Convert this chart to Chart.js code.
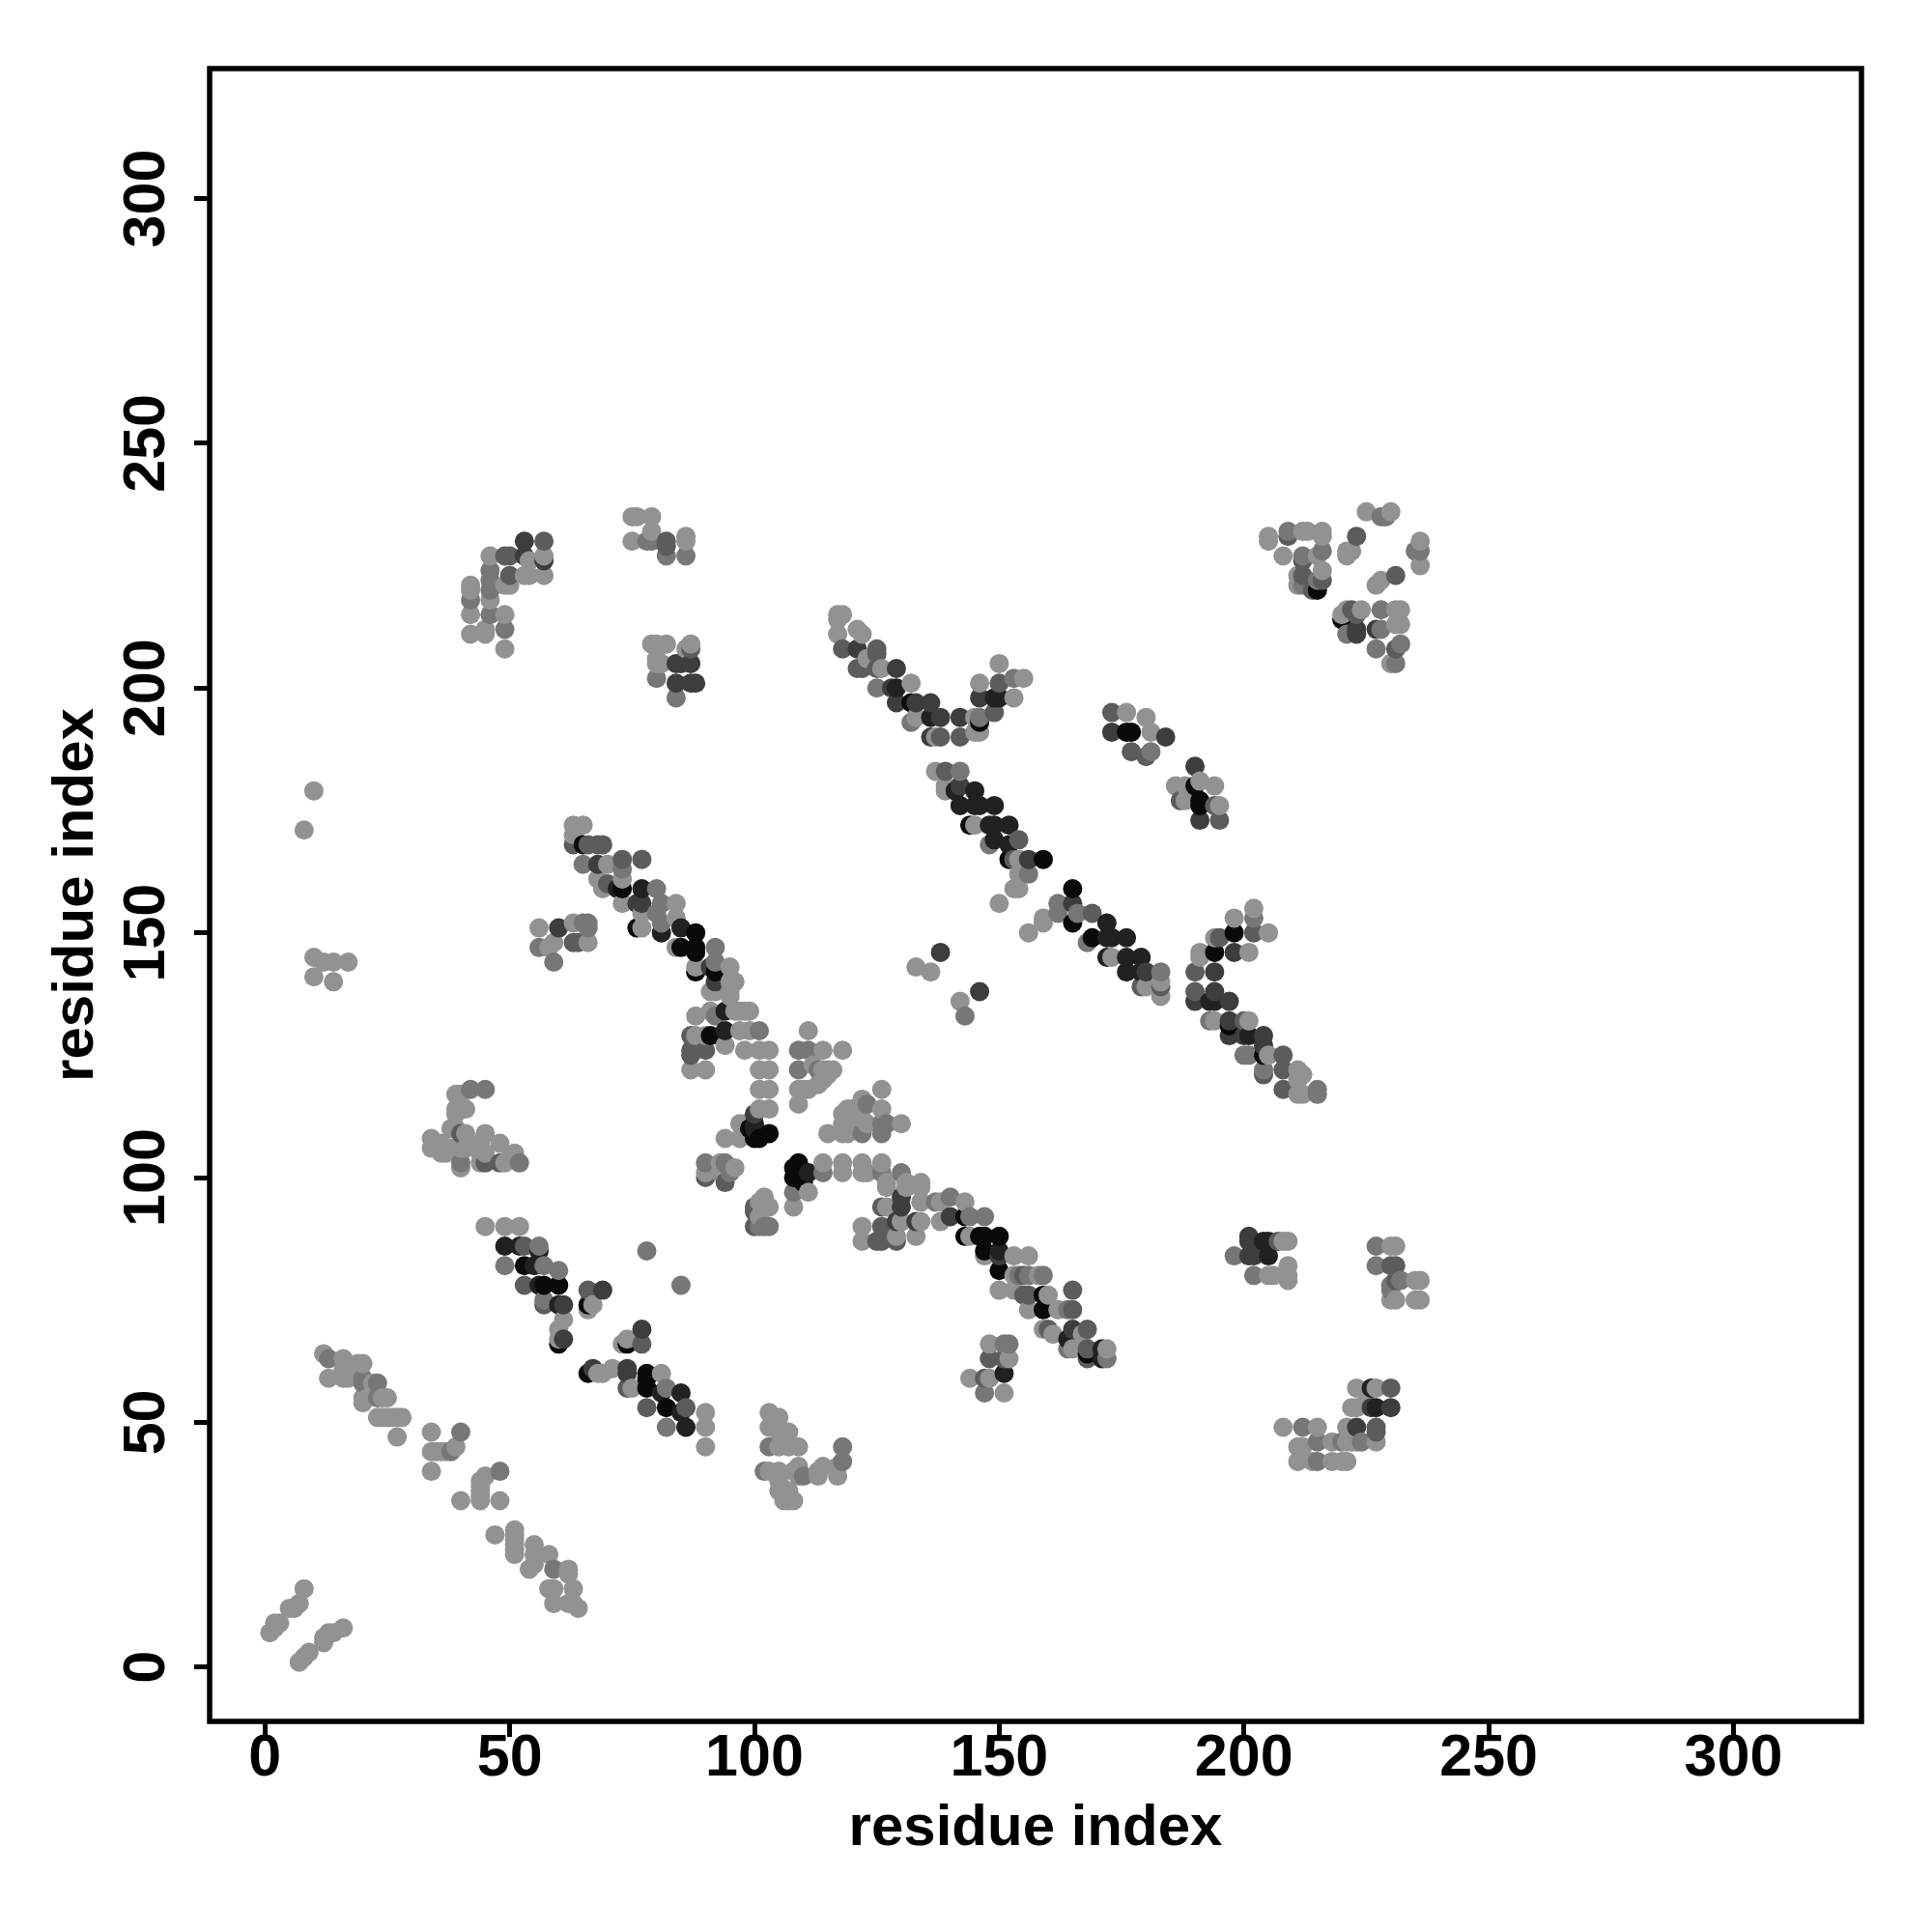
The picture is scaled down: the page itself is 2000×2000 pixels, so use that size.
<!DOCTYPE html>
<html>
<head>
<meta charset="utf-8">
<title>residue contact map</title>
<script src="https://cdn.jsdelivr.net/npm/chart.js@4"></script>
<style>
  html, body { margin: 0; padding: 0; background: #fff; }
  canvas { display: block; }
</style>
</head>
<body>
<canvas id="contact-chart" width="2000" height="2000"></canvas>
<script>
const tickValues = [0, 50, 100, 150, 200, 250, 300];
const axisTitle = 'residue index';

// [x, y] contacts, one list per grey level
const contactsBlack = [
    [53,82],[57,78],[60,78],[66,74],[74,66],[60,66],[66,60],[78,60],[78,57],[78,59],[82,53],[99,110],[100,108],[101,108],
    [103,109],[109,103],[108,102],[108,100],[110,101],[110,99],[91,129],[143,92],[143,88],[146,88],[147,88],[150,88],
    [147,85],[150,81],[159,76],[159,73],[168,64],[65,168],[73,159],[76,151],[85,147],[88,150],[88,147],[88,146],[88,142],
    [92,142],[144,172],[152,165],[159,165],[165,159],[165,152],[169,149],[194,146],[197,131],[204,125],[132,197],[146,193],
    [176,191],[177,191],[190,180],[191,177],[191,176],[198,150],[215,220],[220,214]
];
const contactsNearBlack = [
    [49,86],[52,86],[86,49],[85,52],[100,111],[100,110],[111,101],[94,134],[94,130],[150,85],[205,87],[205,84],[204,87],
    [151,60],[227,53],[226,57],[141,179],[145,179],[142,176],[145,176],[146,176],[149,176],[149,172],[148,172],[152,172],
    [149,169],[152,168],[172,152],[172,149],[173,149],[176,149],[172,145],[176,145],[179,145],[176,142],[179,142],[81,150],
    [85,151],[77,159],[72,159],[193,136],[194,136],[201,129],[129,200],[136,194],[149,198],[150,198],[171,65],[171,63],
    [164,67],[81,56],[85,56],[60,74],[55,82],[56,78],[56,85]
];
const contactsDark = [
    [69,77],[61,74],[61,67],[77,69],[74,61],[74,60],[67,61],[140,92],[100,113],[150,84],[201,88],[201,87],[201,84],[202,84],
    [130,94],[133,91],[129,91],[130,96],[165,69],[156,165],[180,142],[194,142],[198,146],[194,138],[190,136],[197,136],
    [197,132],[197,129],[204,129],[200,129],[204,127],[138,146],[146,138],[165,156],[142,180],[77,156],[76,156],[129,204],
    [128,200],[129,197],[133,197],[136,197],[138,194],[136,190],[142,194],[146,198],[121,208],[173,191],[184,190],[190,184],
    [191,173],[53,230],[53,227],[57,226],[84,205],[85,205],[87,205],[84,201],[88,201],[223,212],[223,211],[227,212],[223,49],
    [230,53],[226,53],[68,164],[92,140],[91,143],[60,151],[87,201]
];
const contactsMidDark = [
    [78,53],[53,78],[57,74],[86,53],[53,86],[66,77],[77,66],[74,57],[87,129],[87,126],[90,126],[87,125],[90,100],[94,99],
    [100,94],[100,93],[100,90],[126,94],[126,90],[125,87],[129,87],[126,87],[155,80],[155,76],[156,76],[160,69],[168,69],
    [168,65],[168,63],[148,63],[147,59],[151,63],[165,77],[165,73],[207,87],[230,82],[231,82],[231,79],[227,49],[227,48],
    [230,57],[139,183],[153,165],[154,169],[169,154],[195,149],[202,150],[190,142],[190,138],[200,132],[208,125],[208,122],
    [204,121],[208,118],[183,139],[179,139],[118,208],[125,208],[125,207],[121,204],[122,204],[125,204],[138,190],[142,190],
    [149,195],[150,201],[173,195],[177,187],[187,177],[194,176],[195,173],[63,168],[66,168],[69,168],[68,168],[73,165],
    [77,165],[70,160],[63,148],[64,148],[45,103],[48,103],[49,227],[50,227],[50,223],[57,230],[82,230],[82,229],[87,208],
    [209,231],[212,226],[212,223],[216,222],[214,220],[222,216],[223,215],[231,208],[223,231],[231,223],[180,186],[40,109]
];
const contactsMid = [
    [49,82],[56,86],[60,81],[57,82],[57,75],[82,57],[82,49],[78,85],[85,78],[40,48],[48,40],[38,44],[59,20],[13,63],[20,59],
    [23,55],[23,58],[20,58],[118,45],[118,42],[110,39],[102,40],[103,45],[92,133],[101,130],[109,126],[111,126],[109,122],
    [113,122],[123,115],[126,111],[127,111],[122,109],[126,109],[90,103],[94,103],[95,101],[108,97],[114,101],[126,101],
    [101,90],[103,90],[102,90],[130,101],[137,95],[140,96],[144,92],[147,92],[154,80],[156,80],[159,80],[164,73],[164,65],
    [172,63],[152,66],[151,66],[147,56],[198,84],[227,86],[227,82],[230,78],[230,77],[232,79],[212,49],[215,46],[220,46],
    [224,46],[215,42],[202,80],[142,183],[162,156],[162,154],[166,154],[168,148],[148,168],[156,162],[143,133],[183,142],
    [202,153],[200,125],[201,125],[204,122],[215,118],[215,117],[193,132],[132,193],[125,200],[153,202],[181,187],[42,218],
    [46,224],[46,222],[46,220],[46,215],[49,212],[79,230],[78,230],[82,227],[86,227],[80,202],[84,198],[209,232],[212,227],
    [216,228],[212,221],[215,222],[221,211],[228,212],[228,235],[229,235],[235,228],[236,228],[232,209],[227,208],[231,205],
    [228,216],[40,103],[52,103],[42,118],[45,118],[56,147],[59,144],[66,152],[66,151],[65,152],[92,147],[92,144],[81,156],
    [81,152],[73,163],[80,159],[65,164],[146,194],[80,154]
];
const contactsLight = [
    [8,16],[7,13],[5,12],[6,12],[3,9],[2,9],[2,8],[1,7],[16,8],[13,7],[14,7],[12,5],[12,6],[9,3],[8,2],[7,1],
    [12,64],[16,63],[20,62],[19,62],[13,59],[16,59],[17,59],[16,61],[22,58],[20,55],[20,54],[21,55],[25,55],[24,55],
    [23,51],[24,51],[25,51],[26,51],[27,51],[28,51],[27,47],[34,48],[39,45],[34,44],[35,44],[36,44],[37,44],[34,40],
    [45,39],[44,38],[44,37],[44,36],[44,35],[44,34],[40,34],[48,34],[47,27],[51,23],[51,24],[51,25],[51,26],[51,27],[51,28],
    [55,25],[55,23],[55,21],[54,20],[58,23],[62,20],[62,19],[63,16],[58,16],[59,16],[59,13],[63,13],[64,12],[62,13],
    [45,90],[49,90],[52,90],[81,60],[75,57],[61,71],[60,69],[60,67],[67,74],[66,73],[74,67],[73,66],[69,60],[68,60],[71,61],
    [90,52],[90,49],[90,45],[103,52],[105,51],[103,49],[107,48],[109,45],[105,48],[105,45],[107,45],[117,39],[117,41],
    [114,41],[113,40],[113,39],[109,41],[103,40],[105,40],[105,38],[105,36],[106,34],[107,34],[108,34],[107,36],[109,39],[108,40],
    [111,130],[114,126],[118,126],[112,123],[116,122],[115,122],[114,122],[109,118],[111,118],[113,119],[114,120],[110,118],
    [109,115],[115,121],[88,133],[91,134],[96,134],[99,134],[98,134],[97,134],[88,129],[90,129],[97,130],[99,130],[94,127],
    [87,122],[90,122],[98,126],[101,126],[103,126],[101,122],[103,122],[101,118],[103,118],[101,114],[103,114],[98,111],[97,111],
    [94,108],[97,108],[90,101],[93,103],[93,101],[96,102],[111,97],[108,94],[114,103],[118,103],[118,101],[122,103],[122,101],
    [123,101],[126,103],[102,96],[101,95],[103,94],[101,92],[126,118],[122,116],[126,114],[119,114],[118,113],[120,114],
    [118,111],[119,111],[122,112],[123,111],[130,111],[115,109],[118,109],[119,109],[122,90],[122,87],[127,99],[127,98],
    [131,99],[131,98],[134,99],[134,98],[134,95],[127,94],[134,91],[133,88],[129,88],[130,91],[138,95],[143,95],[138,91],
    [144,88],[147,84],[153,84],[156,84],[153,80],[158,80],[150,77],[153,77],[160,76],[156,73],[162,73],[161,68],[159,69],
    [167,68],[165,65],[172,65],[148,66],[152,63],[144,59],[148,59],[151,56],[208,87],[209,87],[209,82],[209,79],[209,80],
    [205,80],[206,80],[230,86],[231,86],[235,79],[236,79],[230,75],[231,75],[235,75],[236,75],[208,49],[215,49],[211,45],
    [212,45],[218,46],[221,46],[222,46],[223,46],[227,46],[211,42],[214,42],[218,42],[221,42],[220,42],[221,49],[223,57],
    [227,57],[223,53],[222,53],[225,54],[56,151],[63,152],[58,147],[59,148],[66,148],[63,172],[65,172],[63,170],[70,164],
    [68,161],[69,160],[69,159],[73,161],[73,156],[77,154],[77,151],[84,156],[84,153],[84,147],[88,143],[95,143],[96,140],
    [95,140],[91,138],[92,138],[95,138],[95,137],[10,179],[8,171],[10,145],[10,141],[14,144],[17,144],[14,140],[12,144],
    [137,183],[139,179],[139,180],[145,172],[154,165],[154,162],[155,162],[153,159],[154,159],[150,156],[159,153],[159,152],
    [156,150],[173,145],[180,139],[183,140],[183,137],[133,143],[136,142],[142,136],[202,155],[198,153],[205,150],[201,146],
    [194,149],[191,146],[191,145],[194,132],[201,132],[205,125],[211,122],[212,121],[211,120],[211,117],[212,117],
    [117,215],[118,215],[117,214],[117,211],[121,212],[122,211],[123,206],[126,204],[132,201],[133,194],[137,190],[145,194],
    [145,191],[146,191],[146,201],[150,205],[155,202],[153,198],[176,195],[180,194],[181,191],[186,180],[188,180],[191,181],
    [194,180],[188,177],[195,176],[42,221],[42,220],[42,215],[42,211],[45,211],[45,212],[49,215],[49,208],[46,227],[46,218],
    [50,221],[49,221],[54,226],[54,223],[53,223],[57,227],[57,223],[75,235],[76,235],[79,235],[75,230],[79,232],[86,231],[86,230],
    [79,209],[82,209],[80,209],[87,209],[86,208],[80,205],[80,206],[81,205],[205,231],[205,230],[208,227],[212,232],[213,232],
    [216,232],[216,231],[216,224],[215,227],[221,228],[222,228],[221,227],[225,236],[230,236],[236,230],[236,225],[228,222],
    [227,221],[211,223],[211,221],[221,216],[220,215],[224,216],[231,216],[232,216],[232,213],[231,213],[230,205],
    [39,117],[40,117],[39,114],[41,114],[40,114],[39,113],[38,110],[39,110],[41,109],[34,108],[34,106],[36,107],[35,107],
    [36,105],[37,105],[38,106],[40,106],[41,106],[40,102],[45,109],[44,107],[48,107],[44,105],[45,105],[44,103],[49,103],
    [51,105],[50,104]
];

const greyLevels = ['#0a0a0a', '#212121', '#3d3d3d', '#5c5c5c', '#777777', '#929292'];
const contactLists = [contactsBlack, contactsNearBlack, contactsDark, contactsMidDark, contactsMid, contactsLight];

// the plot paints left to right, bottom to top, so later points cover earlier ones
const points = [];
contactLists.forEach((list, level) => {
    list.forEach(([x, y]) => points.push({ x, y, color: greyLevels[level] }));
});
points.sort((a, b) => a.x - b.x || a.y - b.y);

const tickFont = { family: '"Liberation Sans", Arial, sans-serif', size: 61, weight: 'bold' };
const titleFont = { family: '"Liberation Sans", Arial, sans-serif', size: 60, weight: 'bold' };

const frameBox = {
    id: 'frameBox',
    afterDatasetsDraw(chart) {
        const { ctx, chartArea } = chart;
        ctx.save();
        ctx.strokeStyle = '#000';
        ctx.lineWidth = 5.5;
        ctx.strokeRect(chartArea.left, chartArea.top, chartArea.right - chartArea.left, chartArea.bottom - chartArea.top);
        ctx.restore();
    }
};

function useTickValues(scale) {
    scale.ticks = tickValues.map(value => ({ value }));
}

const tickGrid = { drawOnChartArea: false, drawTicks: true, tickLength: 16, tickWidth: 5, tickColor: '#000' };

new Chart(document.getElementById('contact-chart').getContext('2d'), {
    type: 'scatter',
    data: {
        datasets: [{
            data: points,
            pointRadius: 10,
            pointBorderWidth: 0,
            pointBackgroundColor: points.map(p => p.color)
        }]
    },
    options: {
        responsive: false,
        animation: false,
        events: [],
        layout: { padding: { top: 71, right: 73, left: 0, bottom: 0 } },
        plugins: { legend: { display: false }, tooltip: { enabled: false } },
        scales: {
            x: {
                type: 'linear',
                min: -11.3,
                max: 326.15,
                afterBuildTicks: useTickValues,
                afterFit: scale => { scale.height = 218; },
                grid: tickGrid,
                border: { display: false },
                ticks: { font: tickFont, color: '#000', padding: -13, maxRotation: 0 },
                title: { display: true, text: axisTitle, font: titleFont, color: '#000', padding: { top: 0, bottom: 70.5 } }
            },
            y: {
                type: 'linear',
                min: -11.1,
                max: 326.55,
                afterBuildTicks: useTickValues,
                afterFit: scale => { scale.width = 217; },
                grid: tickGrid,
                border: { display: false },
                ticks: { font: tickFont, color: '#000', padding: -3, minRotation: 90, maxRotation: 90, crossAlign: 'center' },
                title: { display: true, text: axisTitle, font: titleFont, color: '#000', padding: { top: 43, bottom: 0 } }
            }
        }
    },
    plugins: [frameBox]
});
</script>
</body>
</html>
